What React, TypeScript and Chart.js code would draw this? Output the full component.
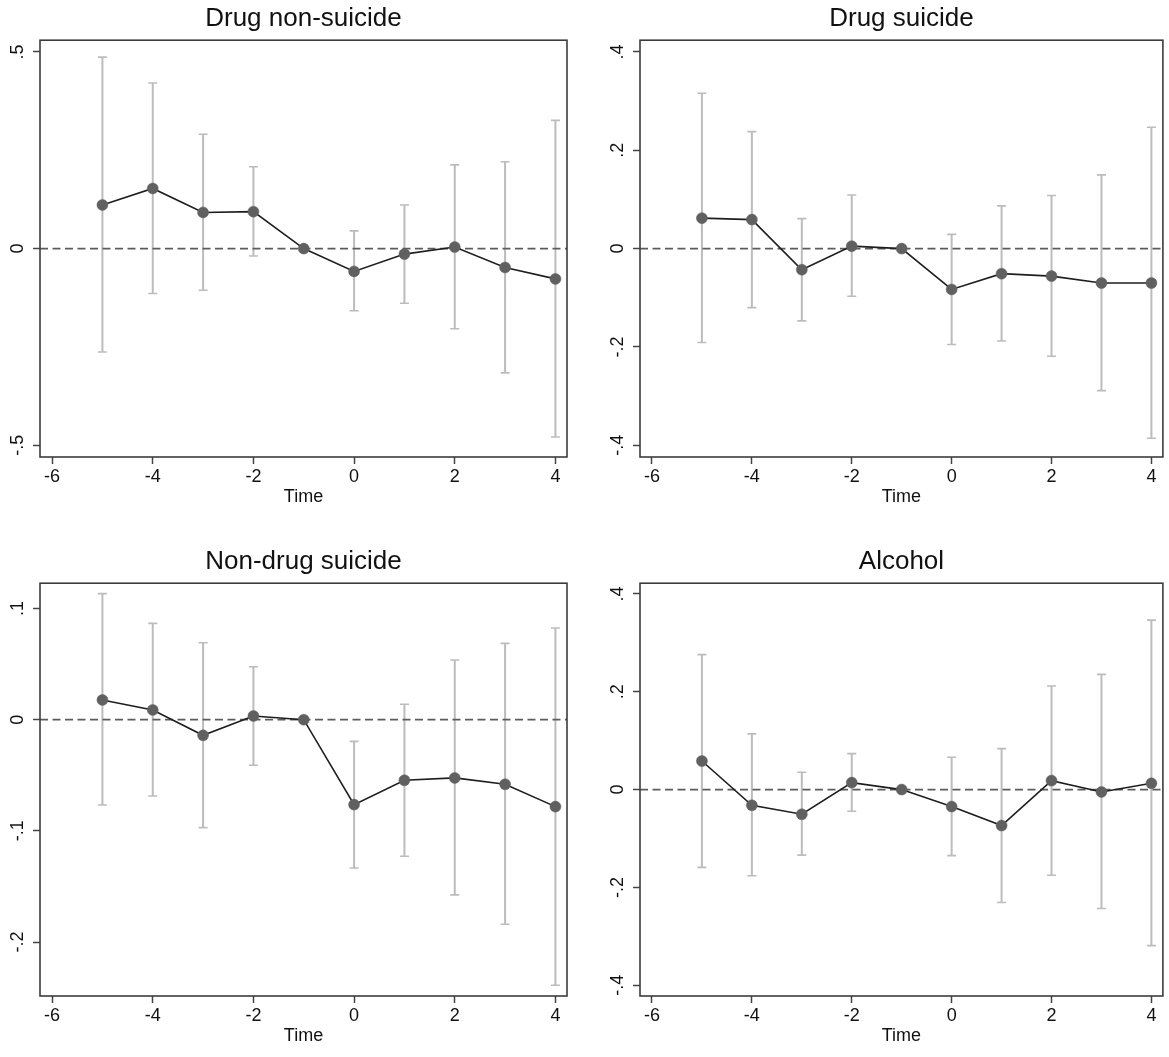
import React, { useEffect, useRef } from "react";
import { Chart, registerables } from "chart.js";

Chart.register(...registerables);

const FONT = "'Liberation Sans', Arial, Helvetica, sans-serif";

const times = [-5, -4, -3, -2, -1, 0, 1, 2, 3, 4];
const xTicks = [-6, -4, -2, 0, 2, 4];
const xTickLabels = ["-6", "-4", "-2", "0", "2", "4"];
const X_MIN = -6.24;
const X_MAX = 4.23;

// Panel 1: Drug non-suicide
const drugNonSuicideCoef = [0.111, 0.153, 0.092, 0.094, 0, -0.058, -0.014, 0.004, -0.048, -0.077];
const drugNonSuicideUpper = [0.487, 0.421, 0.291, 0.208, null, 0.045, 0.111, 0.213, 0.221, 0.326];
const drugNonSuicideLower = [-0.263, -0.114, -0.106, -0.019, null, -0.158, -0.139, -0.204, -0.316, -0.479];
const drugNonSuicideYTicks = [-0.5, 0, 0.5];
const drugNonSuicideYLabels = ["-.5", "0", ".5"];

// Panel 2: Drug suicide
const drugSuicideCoef = [0.062, 0.059, -0.043, 0.005, 0, -0.083, -0.051, -0.056, -0.07, -0.07];
const drugSuicideUpper = [0.316, 0.238, 0.061, 0.109, null, 0.029, 0.087, 0.108, 0.15, 0.247];
const drugSuicideLower = [-0.191, -0.12, -0.147, -0.097, null, -0.195, -0.188, -0.219, -0.289, -0.386];
const drugSuicideYTicks = [-0.4, -0.2, 0, 0.2, 0.4];
const drugSuicideYLabels = ["-.4", "-.2", "0", ".2", ".4"];

// Panel 3: Non-drug suicide
const nonDrugSuicideCoef = [0.0177, 0.0087, -0.0141, 0.0033, 0, -0.0764, -0.0545, -0.0524, -0.0581, -0.0782];
const nonDrugSuicideUpper = [0.1133, 0.0866, 0.0692, 0.0476, null, -0.0195, 0.0138, 0.0536, 0.0686, 0.0824];
const nonDrugSuicideLower = [-0.0767, -0.0686, -0.0971, -0.041, null, -0.1334, -0.1229, -0.1576, -0.184, -0.2388];
const nonDrugSuicideYTicks = [-0.2, -0.1, 0, 0.1];
const nonDrugSuicideYLabels = ["-.2", "-.1", "0", ".1"];

// Panel 4: Alcohol
const alcoholCoef = [0.0585, -0.032, -0.0504, 0.0143, 0, -0.0347, -0.0735, 0.0184, -0.0048, 0.0129];
const alcoholUpper = [0.276, 0.114, 0.0354, 0.0735, null, 0.066, 0.0837, 0.2117, 0.2355, 0.3465];
const alcoholLower = [-0.159, -0.176, -0.134, -0.0442, null, -0.135, -0.2308, -0.175, -0.243, -0.319];
const alcoholYTicks = [-0.4, -0.2, 0, 0.2, 0.4];
const alcoholYLabels = ["-.4", "-.2", "0", ".2", ".4"];

const framePlugin = {
  id: "frame",
  afterDraw(chart: any) {
    const { ctx, chartArea: a } = chart;
    ctx.save();
    ctx.strokeStyle = "#3c3c3c";
    ctx.lineWidth = 1.6;
    ctx.strokeRect(a.left, a.top, a.right - a.left, a.bottom - a.top);
    ctx.restore();
  },
};

type PanelProps = {
  title: string;
  coef: number[];
  upper: (number | null)[];
  lower: (number | null)[];
  yTicks: number[];
  yLabels: string[];
  yMin: number;
  yMax: number;
  left: number;
  top: number;
  width: number;
  height: number;
  padRight: number;
};

function Panel(p: PanelProps) {
  const ref = useRef<HTMLCanvasElement | null>(null);
  useEffect(() => {
    if (!ref.current) return;
    const pts = times.map((t, i) => ({ x: t, y: p.coef[i] }));
    const whiskers: any[] = [];
    const caps: any[] = [];
    times.forEach((t, i) => {
      const lo = p.lower[i];
      const hi = p.upper[i];
      if (lo == null || hi == null) return;
      whiskers.push({ x: t, y: lo }, { x: t, y: hi }, { x: t, y: null });
      caps.push({ x: t, y: lo }, { x: t, y: hi });
    });
    const zero = [
      { x: X_MIN, y: 0 },
      { x: X_MAX, y: 0 },
    ];
    const tickFont = { family: FONT, size: 18 };
    const chart = new Chart(ref.current, {
      type: "line",
      data: {
        datasets: [
          {
            data: pts,
            borderColor: "#1e1e1e",
            borderWidth: 1.6,
            pointRadius: 5.5,
            pointBackgroundColor: "#606060",
            pointBorderColor: "#606060",
            pointBorderWidth: 0.5,
            tension: 0,
            fill: false,
          },
          {
            data: zero,
            borderColor: "#5c5c5c",
            borderWidth: 1.8,
            borderDash: [8, 4.5],
            pointRadius: 0,
            fill: false,
          },
          {
            data: caps,
            showLine: false,
            pointStyle: "line",
            pointRadius: 4.5,
            pointBorderColor: "#bcbcbc",
            pointBorderWidth: 1.6,
            borderColor: "#bcbcbc",
          },
          {
            data: whiskers,
            borderColor: "#bcbcbc",
            borderWidth: 2,
            pointRadius: 0,
            spanGaps: false,
            fill: false,
          },
        ] as any,
      },
      options: {
        animation: false,
        responsive: false,
        devicePixelRatio: 1,
        events: [],
        layout: { padding: { left: 0, right: p.padRight, top: 0, bottom: 0 } },
        plugins: {
          legend: { display: false },
          tooltip: { enabled: false },
          title: {
            display: true,
            text: p.title,
            fullSize: false,
            color: "#111111",
            font: { family: FONT, size: 26, weight: "normal" },
            padding: { top: 3, bottom: 6 },
          },
        },
        scales: {
          x: {
            type: "linear",
            min: X_MIN,
            max: X_MAX,
            afterBuildTicks: (s: any) => {
              s.ticks = xTicks.map((v) => ({ value: v }));
            },
            afterFit: (s: any) => {
              s.height = 60;
            },
            ticks: {
              autoSkip: false,
              maxRotation: 0,
              minRotation: 0,
              padding: 2,
              color: "#111111",
              font: tickFont,
              callback: (_v: any, i: number) => xTickLabels[i],
            },
            grid: {
              drawOnChartArea: false,
              drawTicks: true,
              tickLength: 7,
              tickColor: "#444444",
              tickWidth: 1.5,
            },
            border: { display: false },
            title: {
              display: true,
              text: "Time",
              color: "#111111",
              font: { family: FONT, size: 18 },
              padding: { top: 0, bottom: 9 },
            },
          },
          y: {
            type: "linear",
            min: p.yMin,
            max: p.yMax,
            afterBuildTicks: (s: any) => {
              s.ticks = p.yTicks.map((v) => ({ value: v }));
            },
            afterFit: (s: any) => {
              s.width = 40;
            },
            ticks: {
              autoSkip: false,
              minRotation: 90,
              maxRotation: 90,
              crossAlign: "center",
              padding: 4.5,
              color: "#111111",
              font: tickFont,
              callback: (_v: any, i: number) => p.yLabels[i],
            },
            grid: {
              drawOnChartArea: false,
              drawTicks: true,
              tickLength: 7,
              tickColor: "#444444",
              tickWidth: 1.5,
            },
            border: { display: false },
          },
        },
      } as any,
      plugins: [framePlugin],
    });
    return () => chart.destroy();
  }, []);
  return (
    <canvas
      ref={ref}
      width={p.width}
      height={p.height}
      style={{ position: "absolute", left: p.left, top: p.top, width: p.width, height: p.height }}
    />
  );
}

export default function App() {
  return (
    <div style={{ position: "absolute", left: 0, top: 0, width: 1169, height: 1057, background: "#ffffff", overflow: "hidden" }}>
      <Panel
        title="Drug non-suicide"
        coef={drugNonSuicideCoef}
        upper={drugNonSuicideUpper}
        lower={drugNonSuicideLower}
        yTicks={drugNonSuicideYTicks}
        yLabels={drugNonSuicideYLabels}
        yMin={-0.53}
        yMax={0.53}
        left={0}
        top={0}
        width={584}
        height={517}
        padRight={17}
      />
      <Panel
        title="Drug suicide"
        coef={drugSuicideCoef}
        upper={drugSuicideUpper}
        lower={drugSuicideLower}
        yTicks={drugSuicideYTicks}
        yLabels={drugSuicideYLabels}
        yMin={-0.424}
        yMax={0.424}
        left={600}
        top={0}
        width={569}
        height={517}
        padRight={2}
      />
      <Panel
        title="Non-drug suicide"
        coef={nonDrugSuicideCoef}
        upper={nonDrugSuicideUpper}
        lower={nonDrugSuicideLower}
        yTicks={nonDrugSuicideYTicks}
        yLabels={nonDrugSuicideYLabels}
        yMin={-0.2485}
        yMax={0.1227}
        left={0}
        top={543}
        width={584}
        height={513}
        padRight={17}
      />
      <Panel
        title="Alcohol"
        coef={alcoholCoef}
        upper={alcoholUpper}
        lower={alcoholLower}
        yTicks={alcoholYTicks}
        yLabels={alcoholYLabels}
        yMin={-0.422}
        yMax={0.422}
        left={600}
        top={543}
        width={569}
        height={513}
        padRight={2}
      />
    </div>
  );
}
